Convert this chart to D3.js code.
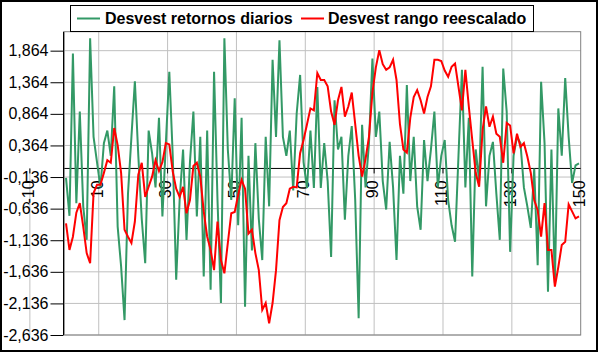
<!DOCTYPE html>
<html>
<head>
<meta charset="utf-8">
<script src="https://cdn.jsdelivr.net/npm/d3@7"></script>
<style>
  body { margin: 0; background: #fff; }
  text { font-family: Arial, "Liberation Sans", sans-serif; }
</style>
</head>
<body>
<div id="chart"></div>
<script>
// series names
const seriesNames = ["Desvest retornos diarios", "Desvest rango reescalado"];

// categories 1..150
const categories = d3.range(1, 151);

// y tick values (Excel style, step 0.5 from the min)
const yTicks = [-2.636, -2.136, -1.636, -1.136, -0.636, -0.136, 0.364, 0.864, 1.364, 1.864];

// x labels every 20 categories
const xLabels = [-10, 10, 30, 50, 70, 90, 110, 130, 150];

// green series
const retornos = [
  -0.15, -0.75, 1.82, -0.55, 0.9, -0.6, -1.13, 2.06, 0.5, 0.1,
  -0.3, 0.4, 0.6, 0.2, 1.3, -0.92, -1.55, -2.4, -0.4, 0.5,
  1.38, 0.2, -0.8, -1.5, 0.6, 0.24, -0.3, 0.8, -0.76, 0.4,
  1.53, 0.2, -1.76, -0.5, 0.3, -1.13, 0.1, 0.9, -0.76, 0.5,
  -1.71, 0.6, -1.92, 1.53, -0.5, -2.13, 2.06, 0.3, -0.5, 1.11,
  -0.9, 0.8, -2.19, 0.2, -1.3, 0.4, -0.8, -1.45, 0.5, -0.6,
  1.72, 0.5, 2.03, 0.5, 0.2, 0.6, -0.35, 0.87, 1.48, 0.1,
  -0.31, 0.6, -0.31, 1.29, -0.31, 0.4, -0.2, -1.4, 1.08, 0.3,
  0.5, -0.81, 0.2, 0.67, -0.5, -2.37, 0.69, -0.3, 0.4, 1.74,
  0.5, 0.9, -0.2, -0.65, 0.42, -0.3, -1.45, 0.2, -0.4, 1.32,
  -0.2, 0.5, -0.6, -0.97, 0.45, -0.2, 0.3, 0.9, -0.3, 0.2,
  0.45, -0.5, -0.9, -1.16, 0.2, 1.56, -0.3, 0.8, -1.71, 0.3,
  -0.2, 1.61, -0.6, 0.2, 0.42, -0.4, -1.13, 1.58, 0.9, -1.32,
  0.2, 0.5, 0.4, -0.3, -0.6, -0.94, 0.0, -1.53, 1.37, 0.4,
  -1.95, 0.3, -1.81, 0.95, 0.2, 1.43, 0.5, -0.23, 0.05, 0.08
];

// red series
const rango = [
  -0.87, -1.29, -1.08, -0.7, -0.55, -0.92, -1.34, -1.5, -0.39, -0.26,
  -0.26, -0.07, 0.13, 0.09, 0.64, 0.37, -0.07, -0.97, -1.08, -1.18,
  -0.84, -0.1, 0.09, -0.45, -0.29, -0.13, 0.13, -0.04, 0.1, 0.4,
  0.38, -0.05, -0.32, -0.45, -0.29, -0.71, -0.5, 0.04, 0.09, -0.13,
  -0.68, -1.08, -1.29, -1.61, -0.84, -1.45, -1.66, -1.18, -0.71, -0.69,
  -0.42, -0.18, -0.32, -1.03, -0.97, -1.34, -1.61, -2.24, -2.13, -2.45,
  -2.13, -1.61, -0.82, -0.61, -0.55, -0.32, -0.29, -0.3, 0.24, 0.45,
  0.7, 0.95, 0.92, 1.51, 1.4, 1.4, 1.3, 0.9, 0.69, 1.08,
  1.29, 0.82, 0.98, 1.2, 0.7, 0.2, -0.13, 0.15, 0.5, 1.2,
  1.6, 1.87, 1.65, 1.56, 1.6, 1.72, 1.4, 0.7, 0.3, 0.25,
  0.8, 1.13, 1.24, 1.08, 0.87, 1.13, 1.3, 1.72, 1.72, 1.7,
  1.55, 1.45, 1.61, 1.66, 1.29, 0.92, 1.56, 0.98, 0.45, -0.07,
  -0.29, 0.61, 0.98, 0.66, 0.82, 0.55, 0.5, 0.09, 0.72, 0.68,
  0.24, 0.55, 0.34, 0.4, 0.19, -0.07, -0.5, -0.66, -1.08, -0.55,
  -1.29, -1.29, -1.87, -1.56, -1.21, -1.16, -0.57, -0.68, -0.79, -0.76
];

const colors = ["#339966", "#ff0000"];

// dimensions
const W = 598, H = 353;
const plot = { left: 64.3, right: 580.7, top: 31.7, bottom: 335 };

const svg = d3.select("#chart")
  .append("svg")
    .attr("width", W)
    .attr("height", H);

svg.append("rect")
  .attr("width", W).attr("height", H)
  .attr("fill", "#fff");

// scales
const x = d3.scaleLinear()
  .domain([0.5, 150.5])
  .range([plot.left, plot.right]);

const y = d3.scaleLinear()
  .domain([-2.636, 2.164])
  .range([plot.bottom, plot.top]);

const fmt = d3.formatLocale({ decimal: ",", thousands: ".", grouping: [3], currency: ["", ""], minus: "-" }).format(".3f");

// horizontal gridlines
svg.append("g")
  .selectAll("line")
  .data(yTicks)
  .join("line")
    .attr("x1", plot.left).attr("x2", plot.right)
    .attr("y1", d => y(d)).attr("y2", d => y(d))
    .attr("stroke", "#c0c0c0")
    .attr("stroke-width", 1);

// vertical gridlines at category boundaries
svg.append("g")
  .selectAll("line")
  .data(xLabels.filter(d => d > 0 && d < 150))
  .join("line")
    .attr("x1", d => x(d + 0.5)).attr("x2", d => x(d + 0.5))
    .attr("y1", plot.top).attr("y2", plot.bottom)
    .attr("stroke", "#c0c0c0")
    .attr("stroke-width", 1);

// the stray one left of the value axis
svg.append("line")
  .attr("x1", x(-9.5)).attr("x2", x(-9.5))
  .attr("y1", y(0)).attr("y2", plot.bottom)
  .attr("stroke", "#c0c0c0")
  .attr("stroke-width", 1);

// plot border
svg.append("rect")
  .attr("x", plot.left).attr("y", plot.top)
  .attr("width", plot.right - plot.left)
  .attr("height", plot.bottom - plot.top)
  .attr("fill", "none")
  .attr("stroke", "#808080")
  .attr("stroke-width", 1);

// y axis
const yAxis = svg.append("g")
  .attr("transform", `translate(${plot.left - 0.8},0)`)
  .call(d3.axisLeft(y).tickValues(yTicks).tickSize(13).tickPadding(2).tickFormat(fmt));
yAxis.select(".domain").attr("stroke", "#000").attr("d", `M0,${plot.top}V${plot.bottom}`);
yAxis.selectAll(".tick line").attr("stroke", "#000");
yAxis.selectAll("text")
  .attr("fill", "#000")
  .style("font-size", "16px");

// zero line (category axis)
svg.append("line")
  .attr("x1", plot.left).attr("x2", plot.right)
  .attr("y1", y(0)).attr("y2", y(0))
  .attr("stroke", "#000")
  .attr("stroke-width", 1);

// x tick marks
svg.append("g")
  .selectAll("line")
  .data(xLabels.filter(d => d < 150))
  .join("line")
    .attr("x1", d => x(d + 0.5)).attr("x2", d => x(d + 0.5))
    .attr("y1", y(0)).attr("y2", y(0) + 5)
    .attr("stroke", "#000");

// x labels (rotated)
svg.append("g")
  .selectAll("text")
  .data(xLabels)
  .join("text")
    .attr("transform", d => `translate(${x(d)},${y(0) + 12}) rotate(-90)`)
    .attr("dy", "0.35em")
    .attr("text-anchor", "end")
    .style("font-size", "16px")
    .attr("fill", "#000")
    .text(d => d);

// lines
const line = d3.line()
  .x((d, i) => x(categories[i]))
  .y(d => y(d));

[retornos, rango].forEach((s, k) => {
  svg.append("path")
    .datum(s)
    .attr("fill", "none")
    .attr("stroke", colors[k])
    .attr("stroke-width", 2)
    .attr("stroke-linejoin", "miter")
    .attr("d", line);
});

// legend
const legend = svg.append("g");
legend.append("rect")
  .attr("x", 70.5).attr("y", 5.5)
  .attr("width", 463).attr("height", 26)
  .attr("fill", "#fff")
  .attr("stroke", "#000");

const legendItems = [
  { name: seriesNames[0], x1: 77, x2: 100, tx: 105 },
  { name: seriesNames[1], x1: 301, x2: 324, tx: 328 }
];
legendItems.forEach((d, k) => {
  legend.append("line")
    .attr("x1", d.x1).attr("x2", d.x2)
    .attr("y1", 18.5).attr("y2", 18.5)
    .attr("stroke", colors[k])
    .attr("stroke-width", 2);
  legend.append("text")
    .attr("x", d.tx).attr("y", 24)
    .style("font-size", "16px")
    .style("font-weight", "bold")
    .attr("fill", "#000")
    .text(d.name);
});

// outer border
svg.append("rect")
  .attr("x", 1).attr("y", 1)
  .attr("width", W - 2).attr("height", H - 3)
  .attr("fill", "none")
  .attr("stroke", "#000")
  .attr("stroke-width", 2);
</script>
</body>
</html>
